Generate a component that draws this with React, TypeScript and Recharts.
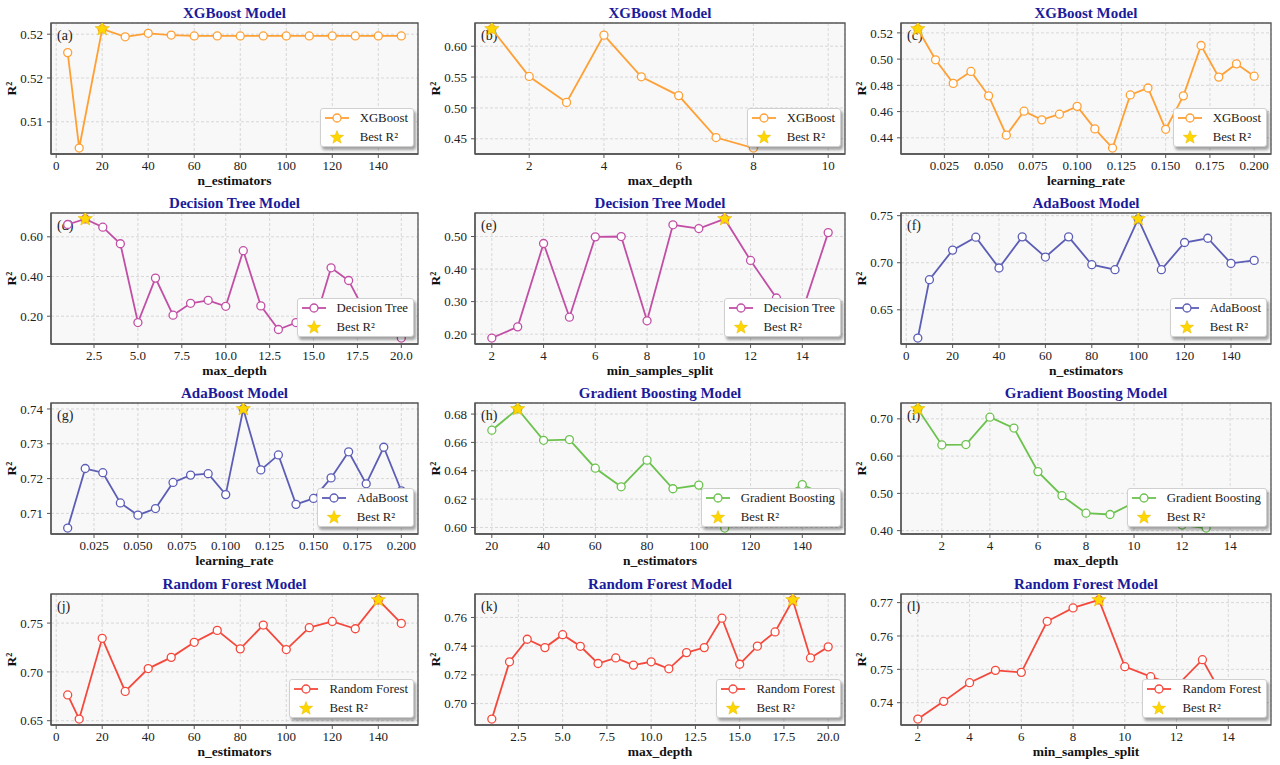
import React from 'react';
import { LineChart, Line, XAxis, YAxis, CartesianGrid, ReferenceArea, Legend } from 'recharts';

const FONT = "'Liberation Serif', 'Times New Roman', Times, serif";

// ---------- x values ----------
const nEstA = [5, 10, 20, 30, 40, 50, 60, 70, 80, 90, 100, 110, 120, 130, 140, 150];
const depth10 = [1, 2, 3, 4, 5, 6, 7, 8, 9, 10];
const lrX = [0.01, 0.02, 0.03, 0.04, 0.05, 0.06, 0.07, 0.08, 0.09, 0.1, 0.11, 0.12, 0.13, 0.14, 0.15, 0.16, 0.17, 0.18, 0.19, 0.2];
const depth20 = [1, 2, 3, 4, 5, 6, 7, 8, 9, 10, 11, 12, 13, 14, 15, 16, 17, 18, 19, 20];
const split15 = [2, 3, 4, 5, 6, 7, 8, 9, 10, 11, 12, 13, 14, 15];
const nEstGB = [20, 30, 40, 50, 60, 70, 80, 90, 100, 110, 120, 130, 140, 150];
const depth15 = [1, 2, 3, 4, 5, 6, 7, 8, 9, 10, 11, 12, 13, 14, 15];

// ---------- R² values ----------
const xgbNEst = [0.5179, 0.507, 0.5206, 0.5197, 0.5201, 0.5199, 0.5198, 0.5198, 0.5198, 0.5198, 0.5198, 0.5198, 0.5198, 0.5198, 0.5198, 0.5198];
const xgbDepth = [0.628, 0.551, 0.509, 0.618, 0.5505, 0.52, 0.452, 0.435, 0.455, 0.45];
const xgbLr = [0.523, 0.4995, 0.4815, 0.4906, 0.472, 0.442, 0.4603, 0.4537, 0.458, 0.464, 0.4468, 0.4322, 0.4727, 0.478, 0.4465, 0.472, 0.5104, 0.4863, 0.4964, 0.487];
const dtDepth = [0.662, 0.69, 0.6485, 0.565, 0.168, 0.392, 0.205, 0.265, 0.28, 0.25, 0.53, 0.252, 0.133, 0.168, 0.15, 0.444, 0.38, 0.21, 0.15, 0.09];
const dtSplit = [0.188, 0.2224, 0.4786, 0.252, 0.499, 0.5, 0.241, 0.536, 0.5245, 0.554, 0.4265, 0.311, 0.27, 0.512];
const adaNEst = [0.62, 0.682, 0.7134, 0.7271, 0.6944, 0.7275, 0.706, 0.7275, 0.6979, 0.6926, 0.7465, 0.6926, 0.7215, 0.726, 0.6993, 0.7025];
const adaLr = [0.7058, 0.7229, 0.7217, 0.713, 0.7095, 0.7114, 0.7189, 0.721, 0.7214, 0.7154, 0.74, 0.7225, 0.7268, 0.7126, 0.7143, 0.7202, 0.7277, 0.7185, 0.729, 0.7165];
const gbNEst = [0.6686, 0.6836, 0.6615, 0.662, 0.6418, 0.6287, 0.6475, 0.6273, 0.6299, 0.5996, 0.61, 0.62, 0.6302, 0.622];
const gbDepth = [0.7265, 0.63, 0.631, 0.7044, 0.6752, 0.5584, 0.4938, 0.4469, 0.4434, 0.475, 0.46, 0.415, 0.407, 0.44, 0.45];
const rfNEst = [0.6764, 0.6517, 0.7344, 0.68, 0.7034, 0.7149, 0.7303, 0.7425, 0.7236, 0.748, 0.7229, 0.7453, 0.7517, 0.7442, 0.7737, 0.7497];
const rfDepth = [0.6892, 0.7291, 0.7448, 0.739, 0.748, 0.7399, 0.7279, 0.7318, 0.7268, 0.7291, 0.7242, 0.7355, 0.739, 0.7595, 0.7274, 0.74, 0.7499, 0.7722, 0.7318, 0.7395];
const rfSplit = [0.7351, 0.7404, 0.746, 0.7497, 0.7491, 0.7644, 0.7684, 0.7708, 0.7508, 0.7478, 0.745, 0.7529, 0.739, 0.742];

// ---------- tick labels ----------
const ticksNEst = [0, 20, 40, 60, 80, 100, 120, 140];
const ticksDepth10 = [2, 4, 6, 8, 10];
const ticksLr = [0.025, 0.05, 0.075, 0.1, 0.125, 0.15, 0.175, 0.2];
const ticksDepth20 = [2.5, 5, 7.5, 10, 12.5, 15, 17.5, 20];
const ticksSplit = [2, 4, 6, 8, 10, 12, 14];
const ticksNEstGB = [20, 40, 60, 80, 100, 120, 140];

const yTicksA = [0.51, 0.515, 0.52];
const yTicksB = [0.45, 0.5, 0.55, 0.6];
const yTicksC = [0.44, 0.46, 0.48, 0.5, 0.52];
const yTicksD = [0.2, 0.4, 0.6];
const yTicksE = [0.2, 0.3, 0.4, 0.5];
const yTicksF = [0.65, 0.7, 0.75];
const yTicksG = [0.71, 0.72, 0.73, 0.74];
const yTicksH = [0.6, 0.62, 0.64, 0.66, 0.68];
const yTicksI = [0.4, 0.5, 0.6, 0.7];
const yTicksJ = [0.65, 0.7, 0.75];
const yTicksK = [0.7, 0.72, 0.74, 0.76];
const yTicksL = [0.74, 0.75, 0.76, 0.77];

// ---------- colours ----------
const C_XGB = '#FFA035';
const C_DT = '#C24FA6';
const C_ADA = '#5C5EB6';
const C_GB = '#6CC24E';
const C_RF = '#F5483C';

type Cfg = {
  tag: string; title: string; name: string; color: string; xLabel: string;
  x: number[]; y: number[]; xTicks: number[]; yTicks: number[]; xDec: number;
  row: number; col: number;
};

const panels: Cfg[] = [
  { tag: '(a)', title: 'XGBoost Model', name: 'XGBoost', color: C_XGB, xLabel: 'n_estimators', x: nEstA, y: xgbNEst, xTicks: ticksNEst, yTicks: yTicksA, xDec: 0, row: 0, col: 0 },
  { tag: '(b)', title: 'XGBoost Model', name: 'XGBoost', color: C_XGB, xLabel: 'max_depth', x: depth10, y: xgbDepth, xTicks: ticksDepth10, yTicks: yTicksB, xDec: 0, row: 0, col: 1 },
  { tag: '(c)', title: 'XGBoost Model', name: 'XGBoost', color: C_XGB, xLabel: 'learning_rate', x: lrX, y: xgbLr, xTicks: ticksLr, yTicks: yTicksC, xDec: 3, row: 0, col: 2 },
  { tag: '(d)', title: 'Decision Tree Model', name: 'Decision Tree', color: C_DT, xLabel: 'max_depth', x: depth20, y: dtDepth, xTicks: ticksDepth20, yTicks: yTicksD, xDec: 1, row: 1, col: 0 },
  { tag: '(e)', title: 'Decision Tree Model', name: 'Decision Tree', color: C_DT, xLabel: 'min_samples_split', x: split15, y: dtSplit, xTicks: ticksSplit, yTicks: yTicksE, xDec: 0, row: 1, col: 1 },
  { tag: '(f)', title: 'AdaBoost Model', name: 'AdaBoost', color: C_ADA, xLabel: 'n_estimators', x: nEstA, y: adaNEst, xTicks: ticksNEst, yTicks: yTicksF, xDec: 0, row: 1, col: 2 },
  { tag: '(g)', title: 'AdaBoost Model', name: 'AdaBoost', color: C_ADA, xLabel: 'learning_rate', x: lrX, y: adaLr, xTicks: ticksLr, yTicks: yTicksG, xDec: 3, row: 2, col: 0 },
  { tag: '(h)', title: 'Gradient Boosting Model', name: 'Gradient Boosting', color: C_GB, xLabel: 'n_estimators', x: nEstGB, y: gbNEst, xTicks: ticksNEstGB, yTicks: yTicksH, xDec: 0, row: 2, col: 1 },
  { tag: '(i)', title: 'Gradient Boosting Model', name: 'Gradient Boosting', color: C_GB, xLabel: 'max_depth', x: depth15, y: gbDepth, xTicks: ticksSplit, yTicks: yTicksI, xDec: 0, row: 2, col: 2 },
  { tag: '(j)', title: 'Random Forest Model', name: 'Random Forest', color: C_RF, xLabel: 'n_estimators', x: nEstA, y: rfNEst, xTicks: ticksNEst, yTicks: yTicksJ, xDec: 0, row: 3, col: 0 },
  { tag: '(k)', title: 'Random Forest Model', name: 'Random Forest', color: C_RF, xLabel: 'max_depth', x: depth20, y: rfDepth, xTicks: ticksDepth20, yTicks: yTicksK, xDec: 1, row: 3, col: 1 },
  { tag: '(l)', title: 'Random Forest Model', name: 'Random Forest', color: C_RF, xLabel: 'min_samples_split', x: split15, y: rfSplit, xTicks: ticksSplit, yTicks: yTicksL, xDec: 0, row: 3, col: 2 },
];

const colX = [0, 427, 853];
const plotLeft = [51, 48, 48];
const rowY = [0, 190, 380, 571];
const W = 427;
const H = 190;
const Y_AXIS_W = 36;
const X_AXIS_H = 36;
const SPINE = '#555555';

function padDomain(v: number[]): [number, number] {
  const lo = Math.min(...v);
  const hi = Math.max(...v);
  const m = (hi - lo) * 0.05;
  return [lo - m, hi + m];
}

function starPath(cx: number, cy: number, R: number) {
  const r = R * 0.42;
  let d = '';
  for (let i = 0; i < 10; i++) {
    const a = -Math.PI / 2 + (i * Math.PI) / 5;
    const rad = i % 2 === 0 ? R : r;
    d += (i === 0 ? 'M' : 'L') + (cx + rad * Math.cos(a)).toFixed(2) + ',' + (cy + rad * Math.sin(a)).toFixed(2);
  }
  return d + 'Z';
}

function LegendBox({ color, name }: { color: string; name: string }) {
  const row: React.CSSProperties = { display: 'flex', alignItems: 'center', height: 18.5 };
  return (
    <div
      style={{
        background: '#ffffff',
        border: '1px solid #d0d0d0',
        borderRadius: 3,
        boxShadow: '2px 3px 3px rgba(0,0,0,0.35)',
        padding: '0px 5px 0px 4px',
        fontFamily: FONT,
        fontSize: 12.8,
        color: '#222',
        lineHeight: '18px',
      }}
    >
      <div style={row}>
        <svg width={24} height={18} style={{ display: 'block' }}>
          <line x1={0} y1={9} x2={24} y2={9} stroke={color} strokeWidth={1.8} />
          <circle cx={12} cy={9} r={4} fill="#fff" stroke={color} strokeWidth={1.3} />
        </svg>
        <span style={{ marginLeft: 11, whiteSpace: 'nowrap' }}>{name}</span>
      </div>
      <div style={row}>
        <svg width={24} height={18} style={{ display: 'block' }}>
          <path d={starPath(12, 9.5, 7)} fill="#FFD700" stroke="#E5B800" strokeWidth={0.5} />
        </svg>
        <span style={{ marginLeft: 11, whiteSpace: 'nowrap' }}>Best R²</span>
      </div>
    </div>
  );
}

function Panel({ cfg }: { cfg: Cfg }) {
  const maxV = Math.max(...cfg.y);
  const bestIdx = cfg.y.indexOf(maxV);
  const data = cfg.x.map((xv, i) => ({ x: xv, r2: cfg.y[i], best: i === bestIdx ? cfg.y[i] : null }));
  const xd = padDomain(cfg.x);
  const yd = padDomain(cfg.y);
  const margin = { top: 23, right: 9, bottom: 0, left: plotLeft[cfg.col] - Y_AXIS_W };
  const tickStyle = { fontSize: 13, fill: '#222', fontFamily: FONT };

  const frameLabel = (props: any) => {
    const vb = props.viewBox || {};
    return (
      <g>
        <text
          x={vb.x + vb.width / 2}
          y={vb.y - 5}
          textAnchor="middle"
          fontFamily={FONT}
          fontWeight="bold"
          fontSize={15}
          fill="#1B1B9B"
        >
          {cfg.title}
        </text>
        <text x={vb.x + 6} y={vb.y + 17} fontFamily={FONT} fontSize={14} fill="#222">
          {cfg.tag}
        </text>
      </g>
    );
  };

  const xLabel = (props: any) => {
    const vb = props.viewBox || {};
    return (
      <text x={vb.x + vb.width / 2} y={vb.y + 31} textAnchor="middle" fontFamily={FONT} fontWeight="bold" fontSize={13.5} fill="#111">
        {cfg.xLabel}
      </text>
    );
  };

  const yLabel = (props: any) => {
    const vb = props.viewBox || {};
    const cx = vb.x + vb.width - 40;
    const cy = vb.y + vb.height / 2;
    return (
      <text
        x={cx}
        y={cy}
        transform={`rotate(-90, ${cx}, ${cy})`}
        textAnchor="middle"
        dominantBaseline="central"
        fontFamily={FONT}
        fontWeight="bold"
        fontSize={13.5}
        fill="#111"
      >
        R²
      </text>
    );
  };

  const renderStar = (props: any) => {
    const { cx, cy, value, index } = props;
    if (value == null || cx == null || cy == null) return <g key={`s${index}`} />;
    return <path key={`s${index}`} d={starPath(cx, cy, 7.5)} fill="#FFD700" stroke="#E5B800" strokeWidth={0.6} />;
  };

  return (
    <div style={{ position: 'absolute', left: colX[cfg.col], top: rowY[cfg.row], width: W, height: H }}>
      <LineChart width={W} height={H} data={data} margin={margin}>
        <CartesianGrid stroke="#cfcfcf" strokeDasharray="3 2" strokeWidth={0.8} fill="#F8F8F8" />
        <XAxis
          dataKey="x"
          type="number"
          domain={xd}
          allowDataOverflow
          ticks={cfg.xTicks}
          tickFormatter={(v: number) => v.toFixed(cfg.xDec)}
          height={X_AXIS_H}
          tick={tickStyle}
          tickSize={4}
          tickMargin={3}
          tickLine={{ stroke: SPINE }}
          axisLine={{ stroke: SPINE, strokeWidth: 1.3 }}
          label={{ content: xLabel }}
        />
        <YAxis
          type="number"
          domain={yd}
          allowDataOverflow
          ticks={cfg.yTicks}
          tickFormatter={(v: number) => v.toFixed(2)}
          width={Y_AXIS_W}
          tick={tickStyle}
          tickSize={4}
          tickMargin={4}
          tickLine={{ stroke: SPINE }}
          axisLine={{ stroke: SPINE, strokeWidth: 1.3 }}
          label={{ content: yLabel }}
        />
        <Line
          dataKey="r2"
          name={cfg.name}
          stroke={cfg.color}
          strokeWidth={1.8}
          dot={{ r: 4, fill: '#ffffff', stroke: cfg.color, strokeWidth: 1.3 }}
          activeDot={false}
          isAnimationActive={false}
        />
        <ReferenceArea
          x1={xd[0]}
          x2={xd[1]}
          y1={yd[0]}
          y2={yd[1]}
          fill="none"
          stroke={SPINE}
          strokeWidth={1.3}
          ifOverflow="visible"
          label={{ content: frameLabel }}
        />
        <Line
          dataKey="best"
          name="Best R²"
          stroke="none"
          dot={renderStar}
          activeDot={false}
          connectNulls={false}
          isAnimationActive={false}
        />
        <Legend
          layout="vertical"
          align="center"
          verticalAlign="middle"
          content={() => <LegendBox color={cfg.color} name={cfg.name} />}
          wrapperStyle={{ left: 'auto', top: 'auto', right: 13, bottom: X_AXIS_H + 7, width: 'auto', height: 'auto', margin: 0, padding: 0 }}
        />
      </LineChart>
    </div>
  );
}

export default function App() {
  return (
    <div style={{ position: 'absolute', left: 0, top: 0, width: 1280, height: 765, background: '#ffffff', overflow: 'hidden' }}>
      {panels.map((p) => (
        <Panel key={p.tag} cfg={p} />
      ))}
    </div>
  );
}
